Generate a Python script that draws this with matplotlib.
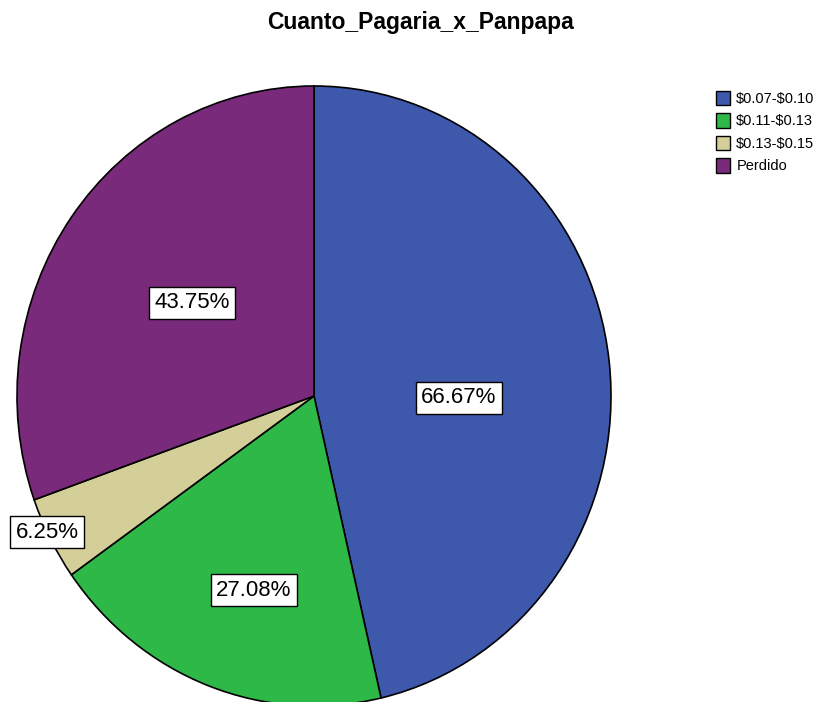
import matplotlib
matplotlib.use("Agg")
import matplotlib.pyplot as plt
from matplotlib.patches import Patch

plt.rcParams['font.family'] = ['Liberation Sans', 'DejaVu Sans']
plt.rcParams['text.parse_math'] = False

categories = ["$0.07-$0.10", "$0.11-$0.13", "$0.13-$0.15", "Perdido"]
counts = [32, 13, 3, 21]
labels = ["66.67%", "27.08%", "6.25%", "43.75%"]
colors = ["#3e58ac", "#2eb848", "#d4ce98", "#7a2a7a"]
label_pos = [(0.488, -0.006), (-0.202, -0.626), (-0.899, -0.440), (-0.41, 0.30)]

W, H = 821, 702
fig = plt.figure(figsize=(W / 100, H / 100), dpi=100)
cx, cy, rx, ry = 314, 396, 297, 310
ax = fig.add_axes([(cx - rx) / W, (H - (cy + ry)) / H, 2 * rx / W, 2 * ry / H])
wedges, _ = ax.pie(counts, colors=colors, startangle=90, counterclock=False,
                   wedgeprops=dict(edgecolor="black", linewidth=1.2))
ax.set_aspect('auto')
ax.set_xlim(-1, 1)
ax.set_ylim(-1, 1)
ax.axis('off')

for (x, y), t in zip(label_pos, labels):
    ax.text(x, y, t, ha='center', va='center', fontsize=16,
            bbox=dict(boxstyle='square,pad=0.25', facecolor='white', edgecolor='black', linewidth=1))

fig.text(420 / W, 1 - 23 / H, "Cuanto_Pagaria_x_Panpapa", ha='center', va='center',
         fontsize=16.5, fontweight='bold')

handles = [Patch(facecolor=c, edgecolor='black', linewidth=1) for c in colors]
fig.legend(handles, categories, loc='upper left', bbox_to_anchor=(710 / W, 1 - 85 / H),
           frameon=False, fontsize=10.5, handlelength=1.0, handleheight=1.15,
           handletextpad=0.4, labelspacing=0.5, borderaxespad=0)

fig.savefig("out.png", dpi=100)
